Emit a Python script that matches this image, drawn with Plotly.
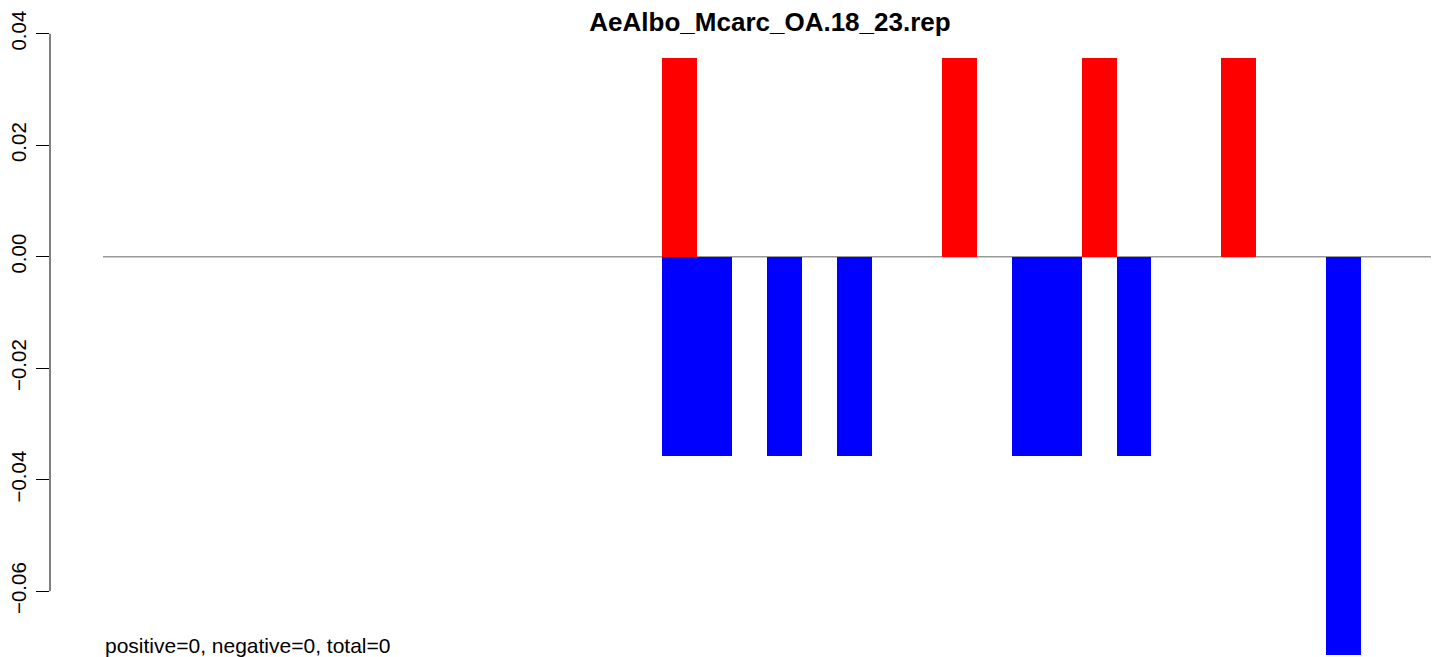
import plotly.graph_objects as go

# ---- data ----
categories = [str(i) for i in range(1, 39)]
positive = [0, 0, 0, 0, 0, 0, 0, 0, 0, 0, 0, 0, 0, 0, 0, 0,
            0.0357, 0, 0, 0, 0, 0, 0, 0, 0.0357, 0, 0, 0, 0.0357, 0,
            0, 0, 0.0357, 0, 0, 0, 0, 0]
negative = [0, 0, 0, 0, 0, 0, 0, 0, 0, 0, 0, 0, 0, 0, 0, 0,
            -0.0357, -0.0357, 0, -0.0357, 0, -0.0357, 0, 0, 0, 0, -0.0357, -0.0357, 0, -0.0357,
            0, 0, 0, 0, 0, -0.0714, 0, 0]
tick_vals = [-0.06, -0.04, -0.02, 0.0, 0.02, 0.04]
tick_text = ["\u22120.06", "\u22120.04", "\u22120.02", "0.00", "0.02", "0.04"]
title_text = "AeAlbo_Mcarc_OA.18_23.rep"
note_text = "positive=0, negative=0, total=0"

FONT = "Liberation Sans, Arial, Helvetica, sans-serif"

fig = go.Figure()
fig.add_trace(go.Bar(x=categories, y=positive, marker=dict(color="#FF0000", line=dict(width=0)),
                     hoverinfo="skip", showlegend=False))
fig.add_trace(go.Bar(x=categories, y=negative, marker=dict(color="#0000FF", line=dict(width=0)),
                     hoverinfo="skip", showlegend=False))

n = len(categories)
# zero reference line across the data range
fig.add_shape(type="line", xref="x", yref="y", x0=-0.5, x1=n - 0.5, y0=0, y1=0,
              line=dict(color="#9a9a9a", width=1.5), layer="below")
# y axis line only between first and last tick (R style)
fig.add_shape(type="line", xref="paper", yref="y", x0=0, x1=0, y0=min(tick_vals), y1=max(tick_vals),
              line=dict(color="black", width=1))

fig.add_annotation(text=note_text, xref="x", yref="y", x=-0.5, y=-0.0698,
                   xanchor="left", yanchor="middle", showarrow=False,
                   font=dict(family=FONT, size=21, color="black"))

fig.update_layout(
    width=1439, height=657,
    margin=dict(l=42, r=0, t=25, b=0, autoexpand=False),
    paper_bgcolor="white", plot_bgcolor="white",
    barmode="overlay", bargap=0,
    title=dict(text="<b>" + title_text + "</b>", xref="container", yref="container",
               x=762 / 1439, y=1 - 14 / 657, xanchor="center", yanchor="middle",
               font=dict(family=FONT, size=26, color="black"), automargin=False),
    xaxis=dict(type="category", range=[-2.016, 37.955], visible=False,
               showgrid=False, zeroline=False, fixedrange=True, automargin=False),
    yaxis=dict(range=[-0.07323, 0.04013], tickvals=tick_vals, ticktext=tick_text,
               tickangle=-90, ticks="outside", ticklen=13, tickwidth=1, tickcolor="black",
               showline=False, showgrid=False, zeroline=False, automargin=False,
               tickfont=dict(family=FONT, size=20.5, color="black"),
               ticklabelstandoff=2),
    font=dict(family=FONT),
)

fig.write_html("out.html", config={"displayModeBar": False})
